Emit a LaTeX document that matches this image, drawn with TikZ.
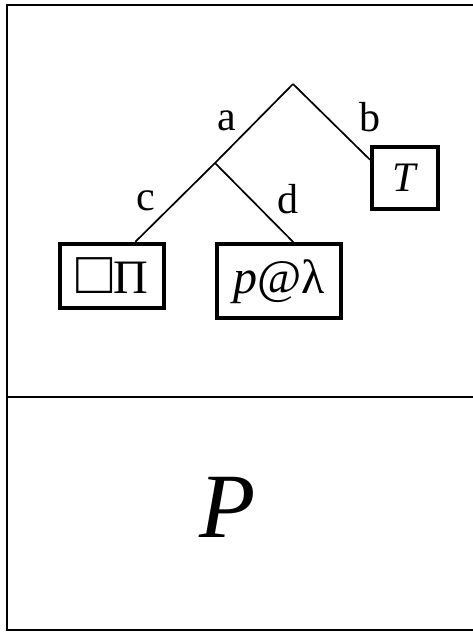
\documentclass[tikz,border=0pt]{standalone}
\usepackage{fontspec}
\usepackage{graphicx}
\setmainfont{Liberation Serif}
\usetikzlibrary{calc}

\begin{document}
\begin{tikzpicture}[
  x=1pt, y=-1pt,
  frame/.style={line width=2.8pt},
  leafbox/.style={draw, line width=4pt, inner sep=0pt, font=\fontsize{48}{52}\selectfont},
  branch/.style={line width=1.7pt},
  lbl/.style={inner sep=0pt, font=\fontsize{42}{46}\selectfont}
]
  \useasboundingbox (0,0) rectangle (473,632);
  % outer frame, open on the right
  \draw[frame] (473,5) -- (7,5) -- (7,630) -- (473,630);
  \draw[frame] (7,397) -- (473,397);
  % tree
  \coordinate (root) at (293,84);
  \coordinate (mid) at (215,163);
  \node[leafbox, minimum width=104pt, minimum height=64.5pt] (pi) at (112.4,276) {\scalebox{1.25}{\symbol{"25A1}}\kern1ptΠ};
  \node[leafbox, minimum width=123.4pt, minimum height=74.3pt] (pl) at (279,281.3) {\textit{p}@λ};
  \node[leafbox, minimum width=66pt, minimum height=62.5pt, font=\fontsize{42}{46}\selectfont] (t) at (405,178) {\textit{T}};
  \draw[branch] (root) -- (mid);
  \draw[branch] (root) -- ($(t.north west)+(0,15)$);
  \draw[branch] (mid) -- ($(pi.north west)+(77,0)$);
  \draw[branch] (mid) -- ($(pl.north west)+(78,0)$);
  \node[lbl] (la) at (227,120.5) {a};
  \node[lbl] (lb) at (370,117) {b};
  \node[lbl] (lc) at (146,201) {c};
  \node[lbl] (ld) at (288,199) {d};
  % lower part
  \node[inner sep=0pt, font=\fontsize{92}{96}\selectfont] (p) at (227.5,507.5) {\textit{P}};
\end{tikzpicture}
\end{document}
